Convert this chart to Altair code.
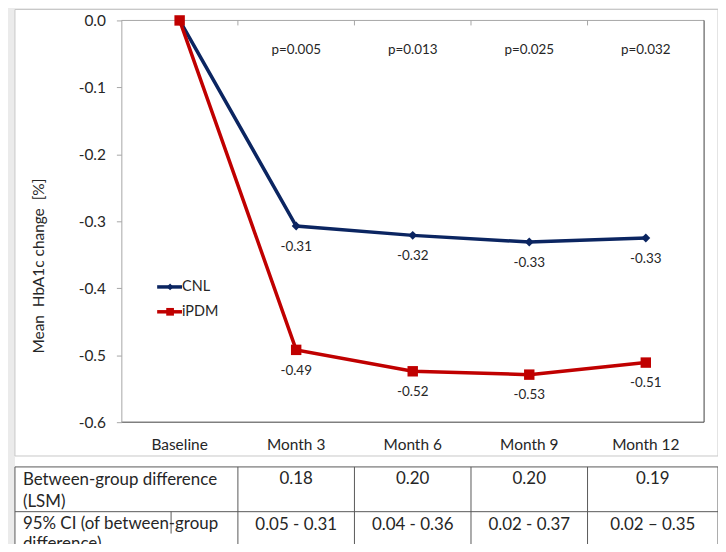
import altair as alt
import pandas as pd

# ---------------- data ----------------
categories = ["Baseline", "Month 3", "Month 6", "Month 9", "Month 12"]
series_names = ["CNL", "iPDM"]
cnl_values = [0.0, -0.307, -0.321, -0.331, -0.325]
ipdm_values = [0.0, -0.492, -0.524, -0.529, -0.511]
cnl_labels = ["", "-0.31", "-0.32", "-0.33", "-0.33"]
ipdm_labels = ["", "-0.49", "-0.52", "-0.53", "-0.51"]
p_categories = ["Month 3", "Month 6", "Month 9", "Month 12"]
p_values = ["p=0.005", "p=0.013", "p=0.025", "p=0.032"]
lsm_diff = ["0.18", "0.20", "0.20", "0.19"]
ci_values = ["0.05 - 0.31", "0.04 - 0.36", "0.02 - 0.37", "0.02 \u2013 0.35"]
row1_title = ["Between-group difference", "(LSM)"]
row2_title = ["95% CI (of between-group", "difference)"]
y_ticks = [-0.6, -0.5, -0.4, -0.3, -0.2, -0.1, 0.0]
y_title = "Mean\u00a0 HbA1c change\u00a0 [%]"

NAVY = "#0b2561"
RED = "#c00000"
TXT = "#262626"
FONT = "Lato"

W, H = 586, 404

xscale = alt.Scale(domain=categories, type="band", paddingInner=0, paddingOuter=0)
yscale = alt.Scale(domain=[-0.6, 0.0], nice=False, zero=False)
xaxis = alt.Axis(orient="bottom", domain=False, ticks=False, tickSize=0, labelPadding=22,
                 labelBaseline="middle", labelFontSize=15.5, labelColor=TXT, labelFont=FONT,
                 labelAngle=0, title=None, grid=False, zindex=2)
yaxis = alt.Axis(values=y_ticks, domain=True, domainColor="#a6a6a6", ticks=True, tickSize=5,
                 tickColor="#a6a6a6", labelPadding=11, labelFontSize=15.5, labelColor=TXT,
                 labelFont=FONT, grid=False, title=None, zindex=2,
                 labelExpr="datum.value == 0 ? '0.0' : '-' + format(abs(datum.value), '.1f')")


def X(field="cat", bp=0.5):
    return alt.X(f"{field}:N", scale=xscale, axis=xaxis, bandPosition=bp, title=None)


def Y():
    return alt.Y("value:Q", scale=yscale, axis=yaxis, title=None)


one = pd.DataFrame({"a": [0]})

# ---------------- decoration ----------------
bg_white = alt.Chart(one).mark_rect(fill="white").encode(
    x=alt.value(-107), x2=alt.value(600), y=alt.value(-11), y2=alt.value(560))
chart_box = alt.Chart(one).mark_rect(fill="white", stroke="#c8c8c8", strokeWidth=1).encode(
    x=alt.value(-107), x2=alt.value(600), y=alt.value(-11), y2=alt.value(438))
top_line = alt.Chart(one).mark_rule(color="#a6a6a6", strokeWidth=1).encode(
    x=alt.value(0), x2=alt.value(W), y=alt.value(0))
right_line = alt.Chart(one).mark_rule(color="#404040", strokeWidth=1).encode(
    x=alt.value(W), y=alt.value(0), y2=alt.value(H))
bottom_line = alt.Chart(one).mark_rule(color="#404040", strokeWidth=1).encode(
    x=alt.value(0), x2=alt.value(W), y=alt.value(H))

pdf = pd.DataFrame({"cat": p_categories, "p": p_values})
top_ticks = alt.Chart(pdf).mark_rule(color="#a6a6a6").encode(
    x=X(bp=0), y=alt.value(0), y2=alt.value(5))
p_text = alt.Chart(pdf).mark_text(fontSize=13.5, font=FONT, color=TXT, baseline="middle").encode(
    x=X(), y=alt.value(30), text="p:N")

# ---------------- series ----------------
cnl_df = pd.DataFrame({"cat": categories, "value": cnl_values, "label": cnl_labels})
ipdm_df = pd.DataFrame({"cat": categories, "value": ipdm_values, "label": ipdm_labels})

cnl_line = alt.Chart(cnl_df).mark_line(color=NAVY, strokeWidth=3.5).encode(x=X(), y=Y())
cnl_pts = alt.Chart(cnl_df).mark_point(shape="diamond", filled=True, color=NAVY, size=80,
                                        opacity=1).encode(x=X(), y=Y())
cnl_txt = alt.Chart(cnl_df).mark_text(dy=21, fontSize=13.5, font=FONT, color=TXT).encode(
    x=X(), y=Y(), text="label:N")
ipdm_line = alt.Chart(ipdm_df).mark_line(color=RED, strokeWidth=3.5).encode(x=X(), y=Y())
ipdm_pts = alt.Chart(ipdm_df).mark_point(shape="square", filled=True, color=RED, size=110,
                                          opacity=1).encode(x=X(), y=Y())
ipdm_txt = alt.Chart(ipdm_df).mark_text(dy=21, fontSize=13.5, font=FONT, color=TXT).encode(
    x=X(), y=Y(), text="label:N")

# ---------------- legend ----------------
leg = []
for name, col, shape, sz, yy in [("CNL", NAVY, "diamond", 45, 268), ("iPDM", RED, "square", 60, 293)]:
    d = pd.DataFrame({"s": [name]})
    leg.append(alt.Chart(d).mark_rule(color=col, strokeWidth=3.5).encode(
        x=alt.value(36), x2=alt.value(61), y=alt.value(yy)))
    leg.append(alt.Chart(d).mark_point(shape=shape, filled=True, color=col, size=sz, opacity=1).encode(
        x=alt.value(49), y=alt.value(yy)))
    leg.append(alt.Chart(d).mark_text(align="left", baseline="middle", fontSize=14.5, font=FONT,
                                      color=TXT).encode(x=alt.value(61), y=alt.value(yy), text="s:N"))

ytitle = alt.Chart(pd.DataFrame({"t": [y_title]})).mark_text(
    angle=270, fontSize=15.5, font=FONT, color=TXT, align="center", baseline="middle").encode(
    x=alt.value(-83), y=alt.value(247), text="t:N")

# ---------------- table ----------------
TL = "#595959"
table_box = alt.Chart(one).mark_rect(fill="white", stroke=TL, strokeWidth=1).encode(
    x=alt.value(-107), x2=alt.value(600), y=alt.value(449), y2=alt.value(560))
row_line = alt.Chart(one).mark_rule(color=TL).encode(
    x=alt.value(-107), x2=alt.value(600), y=alt.value(494))
col_lines = alt.Chart(pdf).mark_rule(color=TL).encode(
    x=X(bp=0), y=alt.value(449), y2=alt.value(560))
stray = alt.Chart(one).mark_rule(color=TL).encode(
    x=alt.value(50), y=alt.value(494), y2=alt.value(516))

row_titles = []
for txt, yy in [(row1_title[0], 462), (row1_title[1], 484), (row2_title[0], 506), (row2_title[1], 527)]:
    row_titles.append(alt.Chart(pd.DataFrame({"t": [txt]})).mark_text(
        align="left", baseline="middle", fontSize=17, font=FONT, color=TXT).encode(
        x=alt.value(-99), y=alt.value(yy), text="t:N"))

tab_df = pd.DataFrame({"cat": p_categories, "lsm": lsm_diff, "ci": ci_values})
tab_main = tab_df[tab_df["cat"] != "Month 12"]
tab_last = tab_df[tab_df["cat"] == "Month 12"]
cells = []
for frame, bp in [(tab_main, 0.5), (tab_last, 0.56)]:
    cells.append(alt.Chart(frame).mark_text(fontSize=17, font=FONT, color=TXT, baseline="middle").encode(
        x=X(bp=bp), y=alt.value(461), text="lsm:N"))
    cells.append(alt.Chart(frame).mark_text(fontSize=17, font=FONT, color=TXT, baseline="middle").encode(
        x=X(bp=bp), y=alt.value(507), text="ci:N"))

chart = alt.layer(
    bg_white, chart_box, table_box, row_line, col_lines, stray,
    top_line, right_line, bottom_line, top_ticks, p_text,
    cnl_line, cnl_pts, cnl_txt, ipdm_line, ipdm_pts, ipdm_txt,
    *leg, ytitle, *row_titles, *cells,
).properties(
    width=W, height=H,
    autosize=alt.AutoSizeParams(type="none"),
    padding={"left": 114, "top": 11, "right": 14, "bottom": 121},
    background="#ebebeb",
).configure_view(stroke=None).configure(font=FONT)

chart.save("out.html", embed_options={"renderer": "svg", "actions": False})
